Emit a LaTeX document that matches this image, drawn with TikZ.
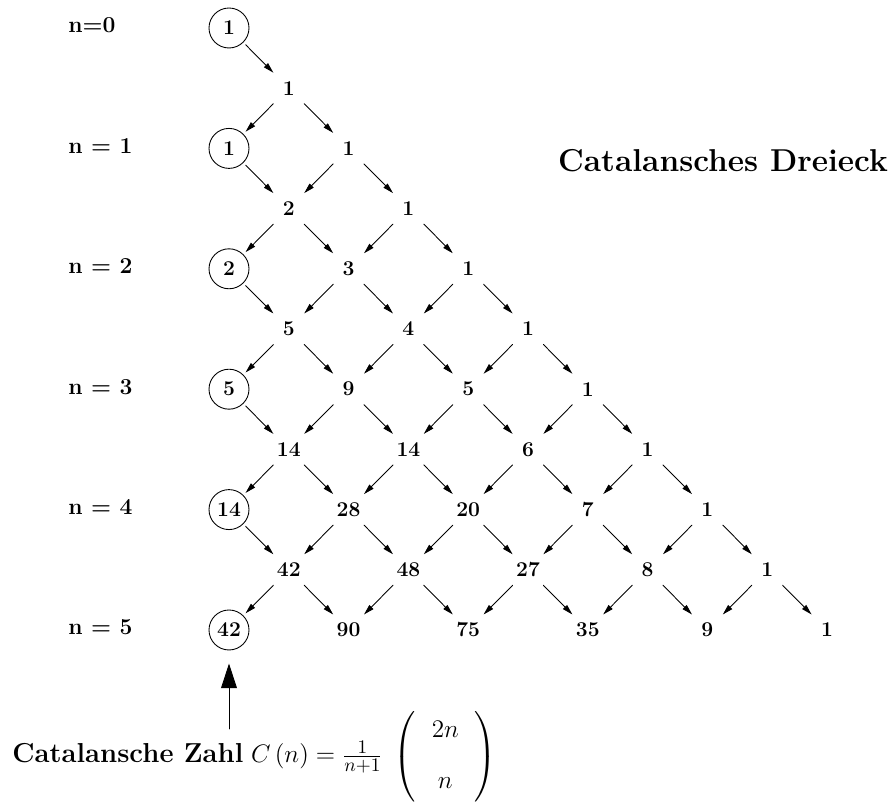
\documentclass[tikz,border=0pt]{standalone}
\usepackage{amsmath}
\usetikzlibrary{arrows.meta}

\begin{document}
\begin{tikzpicture}[x=0.02cm, y=-0.02cm, line cap=round, line join=round,
    pfeil/.style={-{Triangle[length=6pt,width=3.2pt]}, line width=0.5pt},
    zahl/.style={circle, minimum size=0.86cm, inner sep=0pt, font=\fontsize{12}{14}\selectfont\bfseries},
    katzahl/.style={zahl, draw, minimum size=0.8cm, outer sep=2pt, line width=0.5pt},
    zeile/.style={anchor=base west, inner sep=0pt, font=\fontsize{13}{15}\selectfont\bfseries}]

  \useasboundingbox (0,0) rectangle (894,803);

  % ── Catalan numbers (left edge, circled) ─────────────────────────────────────
  \foreach \r/\v in {0/1, 2/1, 4/2, 6/5, 8/14, 10/42}
    \node[katzahl] (k\r-0) at (229, {28+60.2*\r}) {\v};

  % ── Inner entries ────────────────────────────────────────────────────────────
  \foreach \r/\c/\v in {1/1/1, 2/2/1, 3/1/2, 3/3/1, 4/2/3, 4/4/1,
      5/1/5, 5/3/4, 5/5/1, 6/2/9, 6/4/5, 6/6/1,
      7/1/14, 7/3/14, 7/5/6, 7/7/1, 8/2/28, 8/4/20, 8/6/7, 8/8/1,
      9/1/42, 9/3/48, 9/5/27, 9/7/8, 9/9/1,
      10/2/90, 10/4/75, 10/6/35, 10/8/9, 10/10/1}
    \node[zahl] (k\r-\c) at ({229+59.8*\c}, {28+60.2*\r}) {\v};

  % ── Arrows ───────────────────────────────────────────────────────────────────
  \foreach \r/\c in {0/0, 1/1, 2/0, 2/2, 3/1, 3/3, 4/0, 4/2, 4/4,
      5/1, 5/3, 5/5, 6/0, 6/2, 6/4, 6/6, 7/1, 7/3, 7/5, 7/7,
      8/0, 8/2, 8/4, 8/6, 8/8, 9/1, 9/3, 9/5, 9/7, 9/9} {
    \pgfmathtruncatemacro\rn{\r+1}
    \pgfmathtruncatemacro\crechts{\c+1}
    \pgfmathtruncatemacro\clinks{\c-1}
    \draw[pfeil] (k\r-\c) -- (k\rn-\crechts);
    \ifnum\c>0 \draw[pfeil] (k\r-\c) -- (k\rn-\clinks); \fi
  }

  % ── Row labels ───────────────────────────────────────────────────────────────
  \node[zeile] (n0) at (68,33) {n=0};
  \foreach \n in {1,...,5}
    \node[zeile] (n\n) at (68, {33+120.4*\n}) {n = \n};

  % Title
  \node[font=\fontsize{18}{22}\selectfont\bfseries, anchor=base] (titel) at (723,172) {Catalansches Dreieck};

  % ── Formula ──────────────────────────────────────────────────────────────────
  \node[anchor=base west, font=\fontsize{15.6}{19}\selectfont\bfseries, inner sep=0pt] (zahltext) at (12,763) {Catalansche Zahl};
  \node[anchor=base west, font=\fontsize{15.6}{19}\selectfont, inner sep=0pt, xshift=4pt] (formel) at (zahltext.base east)
    {$C\,(n) = \frac{1}{n+1}\;\left(\begin{array}{c} \;2n\;\\[10pt] n\end{array}\right)$};

  % Big arrow
  \coordinate (fuss) at (229,729);
  \draw[-{Triangle[length=14pt,width=9pt]}, line width=0.5pt, shorten >=0.2cm] (fuss) -- (k10-0);

\end{tikzpicture}
\end{document}
